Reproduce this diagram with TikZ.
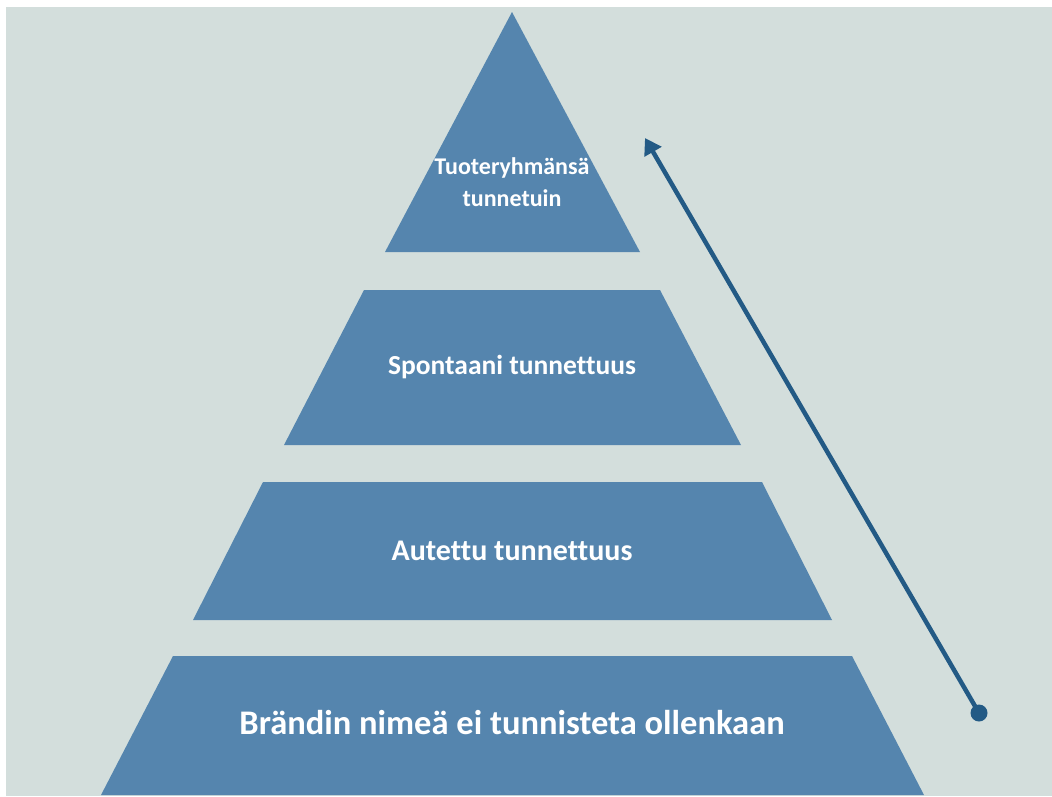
\documentclass[tikz,border=0pt]{standalone}
\usepackage{fontspec}
\setmainfont{Carlito}[Ligatures=NoCommon]
\usetikzlibrary{arrows.meta}
\definecolor{bgc}{HTML}{D3DEDC}
\definecolor{tier}{HTML}{5585AE}
\definecolor{arr}{HTML}{235A85}
\tikzset{
  tierfill/.style={fill=tier,draw=none},
  lbl/.style={text=white,font=\bfseries,align=center,inner sep=0pt},
  upar/.style={draw=arr,line width=4.5pt,-{Triangle[length=16pt,width=19pt]}},
}
\begin{document}
\begin{tikzpicture}[x=1pt,y=-1pt]
\useasboundingbox (0,0) rectangle (1052,796);
\fill[white] (0,0) rectangle (1052,796);
\fill[bgc] (6,7) rectangle (1052,796);
% tiers
\fill[tierfill] (512,12) -- (640,252) -- (385,252) -- cycle;
\fill[tierfill] (364,290) -- (660,290) -- (741,445) -- (284,445) -- cycle;
\fill[tierfill] (263,482) -- (762,482) -- (832,620) -- (193,620) -- cycle;
\fill[tierfill] (173,656) -- (852,656) -- (924,795) -- (101,795) -- cycle;
% labels
\node[lbl,font=\bfseries\fontsize{24}{32}\selectfont] (t1) at (512,182) {Tuoteryhmänsä\\tunnetuin};
\node[lbl,font=\bfseries\fontsize{27.5}{32}\selectfont] (t2) at (512,367) {Spontaani tunnettuus};
\node[lbl,font=\bfseries\fontsize{30}{34}\selectfont] (t3) at (512,551) {Autettu tunnettuus};
\node[lbl,font=\bfseries\fontsize{34.5}{40}\selectfont] (t4) at (512,723) {Brändin nimeä ei tunnisteta ollenkaan};
% arrow
\node[circle,fill=arr,minimum size=17pt,inner sep=0pt] (dot) at (979,713) {};
\coordinate (tip) at (645,138);
\draw[upar] (dot.center) -- (tip);
\end{tikzpicture}
\end{document}
